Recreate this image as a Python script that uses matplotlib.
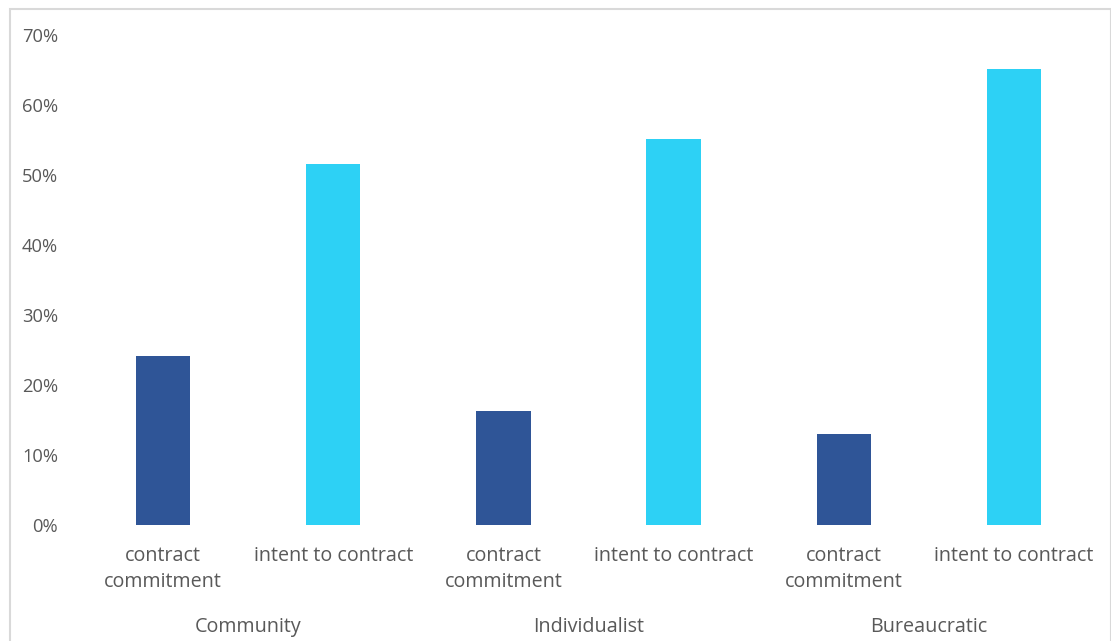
import matplotlib
matplotlib.use("Agg")
import matplotlib.pyplot as plt
from matplotlib.patches import Rectangle

groups = ["Community", "Individualist", "Bureaucratic"]
sub_labels = ["contract\ncommitment", "intent to contract"]
contract_commitment = [24.1, 16.3, 13.0]
intent_to_contract = [51.6, 55.1, 65.1]
yticks = [0, 10, 20, 30, 40, 50, 60, 70]
ytick_labels = ["0%", "10%", "20%", "30%", "40%", "50%", "60%", "70%"]

W, H = 1111, 641
fig = plt.figure(figsize=(W / 100, H / 100), dpi=100)
plt.rcParams['font.family'] = ['Open Sans', 'DejaVu Sans']
txt_col = "#595959"
fs_y = 13.2
fs_x = 14.2

# border
fig.patches.append(Rectangle((9.5 / W, -0.05), (W - 10) / W, 1.05 - 9.5 / H,
                             transform=fig.transFigure, fill=False,
                             edgecolor="#d9d9d9", linewidth=1.5))

left, right = 78 / W, 1099 / W
bottom, top = 1 - 525 / H, 1 - 35 / H
ax = fig.add_axes([left, bottom, right - left, top - bottom])

xs, vals, cols, labs = [], [], [], []
for i in range(len(groups)):
    xs += [2 * i, 2 * i + 1]
    vals += [contract_commitment[i], intent_to_contract[i]]
    cols += ["#2f5597", "#2dd1f5"]
    labs += sub_labels

ax.bar(xs, vals, width=0.32, color=cols)
ax.set_xlim(-0.5, 5.5)
ax.set_ylim(0, 70)
ax.set_yticks(yticks)
ax.set_yticklabels(ytick_labels, fontsize=fs_y, color=txt_col)
ax.set_xticks(xs)
ax.set_xticklabels(labs, fontsize=fs_x, color=txt_col, linespacing=1.38)
ax.tick_params(axis="both", length=0)
ax.tick_params(axis="y", pad=14.4)
ax.tick_params(axis="x", pad=15.3)
for s in ax.spines.values():
    s.set_visible(False)

for i, g in enumerate(groups):
    ax.text(2 * i + 0.5, -14.6, g, ha="center", va="center", fontsize=fs_x,
            color=txt_col, transform=ax.transData, clip_on=False)

fig.savefig("out.png", dpi=100)
